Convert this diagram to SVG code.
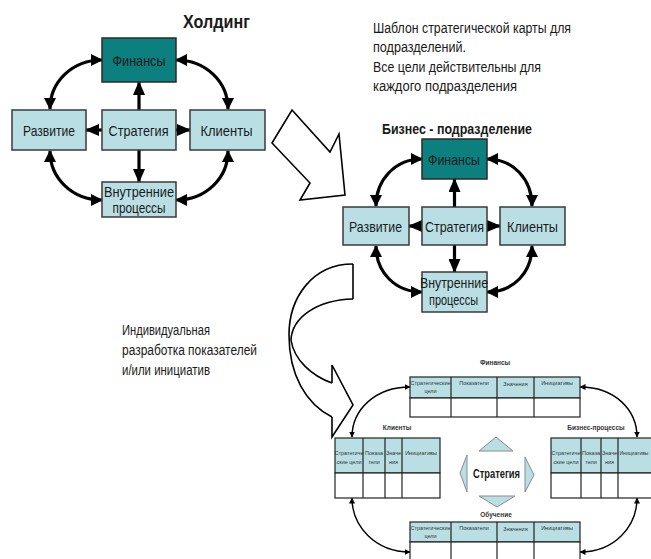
<svg xmlns="http://www.w3.org/2000/svg" width="651" height="559" viewBox="0 0 651 559">
  <style>
    text { font-family: "Liberation Sans", Arial, sans-serif; fill: #1a1a1a; }
    .lbl { font-size: 15px; text-anchor: middle; }
    .note { font-size: 14px; }
    .ttl { font-weight: bold; text-anchor: middle; }
    .box { fill: #b9dfe5; stroke: #3a3a3a; stroke-width: 1.5; }
    .boxdark { fill: #0c7f7f; stroke: #2a2a2a; stroke-width: 1.5; }
    .arc { fill: none; stroke: #000; stroke-width: 3.2; marker-start: url(#head); marker-end: url(#head); }
    .ray { fill: none; stroke: #000; stroke-width: 3.2; marker-end: url(#rayhead); }
    .thin { fill: none; stroke: #000; stroke-width: 1.4; marker-start: url(#tiny); marker-end: url(#tiny); }
    .hollow { fill: #fff; stroke: #000; stroke-width: 1.6; stroke-linejoin: miter; }
    .hline { fill: none; stroke: #000; stroke-width: 1.6; }
    .th { fill: #b9dfe5; stroke: #222; stroke-width: 1.2; }
    .td { fill: #fff; stroke: #222; stroke-width: 1.2; }
    .cell { font-size: 5.5px; text-anchor: middle; fill: #333; }
    .cap { font-size: 6.5px; font-weight: bold; text-anchor: middle; fill: #333; }
    .tri { fill: #b9dfe5; stroke: #8a8a8a; stroke-width: 1; }
  </style>
  <defs>
    <marker id="head" viewBox="0 0 12 12" refX="11" refY="6" markerWidth="12" markerHeight="12" markerUnits="userSpaceOnUse" orient="auto-start-reverse">
      <path d="M0,0 L12,6 L0,12 z" fill="#000"/>
    </marker>
    <marker id="rayhead" viewBox="0 0 14 12" refX="13" refY="6" markerWidth="14" markerHeight="12" markerUnits="userSpaceOnUse" orient="auto">
      <path d="M0,0 L14,6 L0,12 z" fill="#000"/>
    </marker>
    <marker id="tiny" viewBox="0 0 6 6" refX="5.5" refY="3" markerWidth="6" markerHeight="6" markerUnits="userSpaceOnUse" orient="auto-start-reverse">
      <path d="M0,0 L6,3 L0,6 z" fill="#000"/>
    </marker>
  </defs>

  <!-- Holding level -->
  <text class="ttl" x="216.5" y="28" font-size="18" textLength="67" lengthAdjust="spacingAndGlyphs">Холдинг</text>

  <g id="connectors-holding">
    <path class="arc" d="M102,60 C72,60 50,82 50,109"/>
    <path class="arc" d="M176,60 C206,60 228,82 228,109"/>
    <path class="arc" d="M50,151 C50,178 72,200 102,200"/>
    <path class="arc" d="M228,151 C228,178 206,200 176,200"/>
    <path class="ray" d="M139,110 L139,82"/>
    <path class="ray" d="M102,130 L86,130"/>
    <path class="ray" d="M176,130 L190,130"/>
    <path class="ray" d="M139,150 L139,182"/>
  </g>

  <g id="h-finance">
    <rect class="boxdark" x="102" y="38" width="74" height="44"/>
    <text class="lbl" x="139" y="66" textLength="53" lengthAdjust="spacingAndGlyphs">Финансы</text>
  </g>
  <g id="h-development">
    <rect class="box" x="12" y="110" width="74" height="40"/>
    <text class="lbl" x="49" y="136" textLength="52" lengthAdjust="spacingAndGlyphs">Развитие</text>
  </g>
  <g id="h-strategy">
    <rect class="box" x="102" y="110" width="74" height="40"/>
    <text class="lbl" x="138.5" y="136" textLength="60" lengthAdjust="spacingAndGlyphs">Стратегия</text>
  </g>
  <g id="h-clients">
    <rect class="box" x="190" y="110" width="75" height="40"/>
    <text class="lbl" x="226.5" y="136" textLength="52" lengthAdjust="spacingAndGlyphs">Клиенты</text>
  </g>
  <g id="h-processes">
    <rect class="box" x="102" y="182" width="74" height="35"/>
    <text class="lbl" x="139" y="197" textLength="70" lengthAdjust="spacingAndGlyphs">Внутренние</text>
    <text class="lbl" x="139" y="213" textLength="53" lengthAdjust="spacingAndGlyphs">процессы</text>
  </g>

  <!-- Explanatory notes -->
  <g id="note-template">
    <text class="note" x="373" y="33" textLength="198" lengthAdjust="spacingAndGlyphs">Шаблон стратегической карты для</text>
    <text class="note" x="373" y="52" textLength="93" lengthAdjust="spacingAndGlyphs">подразделений.</text>
    <text class="note" x="373" y="72" textLength="168" lengthAdjust="spacingAndGlyphs">Все цели действительны для</text>
    <text class="note" x="373" y="91" textLength="144" lengthAdjust="spacingAndGlyphs">каждого подразделения</text>
  </g>
  <g id="note-individual">
    <text class="note" x="122" y="335" textLength="88" lengthAdjust="spacingAndGlyphs">Индивидуальная</text>
    <text class="note" x="122" y="354.5" textLength="135" lengthAdjust="spacingAndGlyphs">разработка показателей</text>
    <text class="note" x="122" y="374.5" textLength="88" lengthAdjust="spacingAndGlyphs">и/или инициатив</text>
  </g>

  <!-- Block arrows -->
  <g id="arrow-down-right">
    <polygon class="hollow" points="292,110 330,152 339,134 345,195 300,200 310,183 272,143"/>
  </g>
  <g id="arrow-curved">
    <path class="hline" d="M353,264 L353,299"/>
    <path class="hline" d="M353,264 C312,264 289,298 289,335 C289,375 306,404 332,417"/>
    <path class="hline" d="M353,299 C316,300 292,318 291,340 C294,360 312,376 332,383"/>
    <path class="hline" d="M332,383 L332,365 L353,405 L332,437 L332,417"/>
  </g>

  <!-- Business unit level -->
  <text class="ttl" x="457" y="134" font-size="14" textLength="150" lengthAdjust="spacingAndGlyphs">Бизнес - подразделение</text>

  <g id="connectors-unit">
    <path class="arc" d="M422,159 C395,159 376,180 376,206"/>
    <path class="arc" d="M487,159 C514,159 532,180 532,206"/>
    <path class="arc" d="M376,246 C376,272 395,292 422,292"/>
    <path class="arc" d="M532,246 C532,272 514,292 487,292"/>
    <path class="ray" d="M454.5,207 L454.5,179"/>
    <path class="ray" d="M422,226 L409,226"/>
    <path class="ray" d="M487,226 L500,226"/>
    <path class="ray" d="M454.5,245 L454.5,272"/>
  </g>

  <g id="u-finance">
    <rect class="boxdark" x="422" y="139" width="65" height="40"/>
    <text class="lbl" x="454" y="165" textLength="52" lengthAdjust="spacingAndGlyphs">Финансы</text>
  </g>
  <g id="u-development">
    <rect class="box" x="343" y="207" width="66" height="38"/>
    <text class="lbl" x="375.5" y="232" textLength="53" lengthAdjust="spacingAndGlyphs">Развитие</text>
  </g>
  <g id="u-strategy">
    <rect class="box" x="422" y="207" width="65" height="38"/>
    <text class="lbl" x="454.5" y="232" textLength="59" lengthAdjust="spacingAndGlyphs">Стратегия</text>
  </g>
  <g id="u-clients">
    <rect class="box" x="500" y="207" width="65" height="38"/>
    <text class="lbl" x="532.5" y="232" textLength="51" lengthAdjust="spacingAndGlyphs">Клиенты</text>
  </g>
  <g id="u-processes">
    <rect class="box" x="422" y="272" width="65" height="40"/>
    <text class="lbl" x="454" y="288" textLength="68" lengthAdjust="spacingAndGlyphs">Внутренние</text>
    <text class="lbl" x="453.5" y="305" textLength="49" lengthAdjust="spacingAndGlyphs">процессы</text>
  </g>

  <!-- Indicator tables -->
  <g id="connectors-tables">
    <path class="thin" d="M410,387 C375,387 352,410 352,437"/>
    <path class="thin" d="M580,387 C615,387 637,410 637,437"/>
    <path class="thin" d="M352,498 C352,526 375,552 410,552"/>
    <path class="thin" d="M637,498 C637,526 615,552 580,552"/>
  </g>

  <g id="t-finance">
    <text class="cap" x="495" y="365">Финансы</text>
    <rect class="th" x="410" y="377" width="170" height="21"/>
    <rect class="td" x="410" y="398" width="170" height="19"/>
    <path d="M451,377 V417 M497,377 V417 M534,377 V417" stroke="#222" stroke-width="1.2"/>
    <text class="cell" x="430.5" y="385" textLength="40" lengthAdjust="spacingAndGlyphs">Стратегические</text>
    <text class="cell" x="430.5" y="393">цели</text>
    <text class="cell" x="474" y="385">Показатели</text>
    <text class="cell" x="515.5" y="386">Значения</text>
    <text class="cell" x="557" y="385">Инициативы</text>
  </g>

  <g id="t-clients">
    <text class="cap" x="397" y="430">Клиенты</text>
    <rect class="th" x="335" y="438" width="105" height="35"/>
    <rect class="td" x="335" y="473" width="105" height="25"/>
    <path d="M363,438 V498 M385,438 V498 M402,438 V498" stroke="#222" stroke-width="1.2"/>
    <text class="cell" x="349" y="455">Стратегиче</text>
    <text class="cell" x="349" y="464">ские цели</text>
    <text class="cell" x="374" y="455">Показа</text>
    <text class="cell" x="374" y="464">тели</text>
    <text class="cell" x="393.5" y="455">Значе</text>
    <text class="cell" x="393.5" y="464">ния</text>
    <text class="cell" x="421" y="455">Инициативы</text>
  </g>

  <g id="t-processes">
    <text class="cap" x="596" y="430">Бизнес-процессы</text>
    <rect class="th" x="551" y="438" width="105" height="35"/>
    <rect class="td" x="551" y="473" width="105" height="25"/>
    <path d="M581,438 V498 M601,438 V498 M618,438 V498" stroke="#222" stroke-width="1.2"/>
    <text class="cell" x="566" y="455">Стратегиче</text>
    <text class="cell" x="566" y="464">ские цели</text>
    <text class="cell" x="591" y="455">Показа</text>
    <text class="cell" x="591" y="464">тели</text>
    <text class="cell" x="609.5" y="455">Значе</text>
    <text class="cell" x="609.5" y="464">ния</text>
    <text class="cell" x="634" y="455" textLength="29" lengthAdjust="spacingAndGlyphs">Инициативы</text>
  </g>

  <g id="t-learning">
    <text class="cap" x="496" y="517">Обучение</text>
    <rect class="th" x="410" y="522" width="170" height="20"/>
    <rect class="td" x="410" y="542" width="170" height="20"/>
    <path d="M451,522 V562 M497,522 V562 M534,522 V562" stroke="#222" stroke-width="1.2"/>
    <text class="cell" x="430.5" y="530" textLength="40" lengthAdjust="spacingAndGlyphs">Стратегические</text>
    <text class="cell" x="430.5" y="538">цели</text>
    <text class="cell" x="474" y="530">Показатели</text>
    <text class="cell" x="515.5" y="531">Значения</text>
    <text class="cell" x="557" y="530">Инициативы</text>
  </g>

  <g id="strategy-hub">
    <polygon class="tri" points="479,451 496,437 513,451"/>
    <polygon class="tri" points="479,496 515,496 497,507"/>
    <polygon class="tri" points="467,455 460,473 467,492"/>
    <polygon class="tri" points="525,457 534,475 525,492"/>
    <text x="496.5" y="478" font-size="12.5" font-weight="bold" text-anchor="middle" textLength="47" lengthAdjust="spacingAndGlyphs">Стратегия</text>
  </g>
</svg>
